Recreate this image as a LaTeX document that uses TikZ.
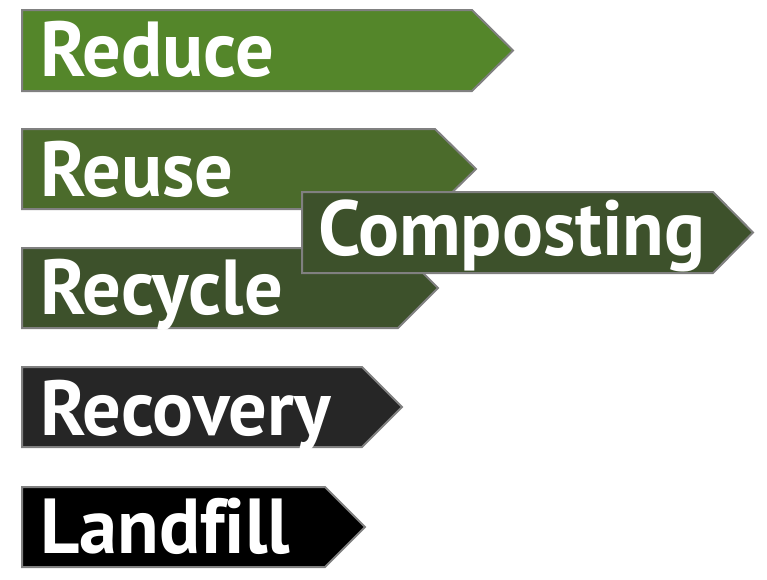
\documentclass[tikz,border=0pt]{standalone}
\usepackage{fontspec}
\setmainfont{PT Sans}
\newfontfamily\stepfont[FakeStretch=0.98, Ligatures=NoCommon]{PT Sans Bold}
\usepackage{tikz}

\definecolor{reducegreen}{RGB}{84,134,42}
\definecolor{reusegreen}{RGB}{75,107,43}
\definecolor{recyclegreen}{RGB}{61,81,43}
\definecolor{recoverygray}{RGB}{38,38,38}
\definecolor{edgegray}{RGB}{128,128,128}

\tikzset{
  wastearrow/.style={draw=edgegray, line width=2pt, line join=miter},
  steplabel/.style={anchor=base west, inner sep=0pt, text=white,
    font=\stepfont\fontsize{78}{80}\selectfont}
}

\begin{document}
\begin{tikzpicture}[x=1pt, y=-1pt]

\useasboundingbox (0,0) rectangle (767,579);

% draw the hierarchy

%% reduce
\filldraw[wastearrow, fill=reducegreen] (22,10) -- (472,10) -- (513,50.5) -- (472,91) -- (22,91) -- cycle;
\node[steplabel] (reduce) at (40,76) {Reduce};

%% reuse
\filldraw[wastearrow, fill=reusegreen] (22,129) -- (435,129) -- (476,169) -- (435,209) -- (22,209) -- cycle;
\node[steplabel] (reuse) at (40,196) {Reuse};

%% recycle
\filldraw[wastearrow, fill=recyclegreen] (22,248) -- (398,248) -- (438,288) -- (398,328) -- (22,328) -- cycle;
\node[steplabel] (recycle) at (40,314) {Recycle};

%% composting, on top of reuse and recycle
\filldraw[wastearrow, fill=recyclegreen] (302,192) -- (713,192) -- (753,232.5) -- (713,273) -- (302,273) -- cycle;
\node[steplabel] (composting) at (318,255) {Composting};

%% recovery
\filldraw[wastearrow, fill=recoverygray] (22,367) -- (362,367) -- (402,407) -- (362,447) -- (22,447) -- cycle;
\node[steplabel] (recovery) at (40,435) {Recovery};

%% landfill
\filldraw[wastearrow, fill=black] (22,487) -- (325,487) -- (365,527) -- (325,567) -- (22,567) -- cycle;
\node[steplabel] (landfill) at (40,553) {Landfill};

\end{tikzpicture}
\end{document}
